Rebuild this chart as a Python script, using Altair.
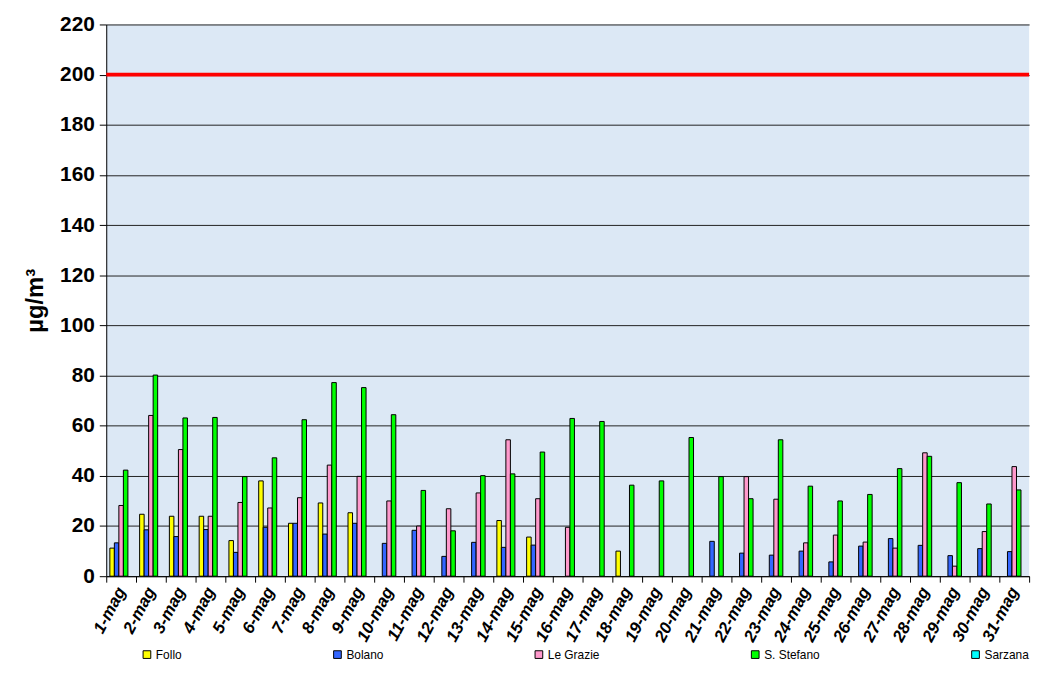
import altair as alt
import pandas as pd

days = ["1-mag", "2-mag", "3-mag", "4-mag", "5-mag", "6-mag", "7-mag", "8-mag",
        "9-mag", "10-mag", "11-mag", "12-mag", "13-mag", "14-mag", "15-mag",
        "16-mag", "17-mag", "18-mag", "19-mag", "20-mag", "21-mag", "22-mag",
        "23-mag", "24-mag", "25-mag", "26-mag", "27-mag", "28-mag", "29-mag",
        "30-mag", "31-mag"]

stations = ["Follo", "Bolano", "Le Grazie", "S. Stefano", "Sarzana"]
colors = ["#FFFF00", "#3366FF", "#FF99CC", "#00FF00", "#00FFFF"]

follo = [11.2, 24.7, 23.9, 23.9, 14.2, 38.0, 21.1, 29.2, 25.3, None, None, None,
         None, 22.2, 15.6, None, None, 10.0, None, None, None, None, None, None,
         None, None, None, None, None, None, None]
bolano = [13.3, 18.5, 15.8, 18.6, 9.5, 19.5, 21.1, 16.8, 21.1, 13.1, 18.3, 7.9,
          13.5, 11.5, 12.4, None, None, None, None, None, 13.9, 9.2, 8.4, 10.0,
          5.7, 12.0, 15.0, 12.3, 8.2, 11.0, 9.8]
le_grazie = [28.2, 64.1, 50.5, 23.9, 29.4, 27.2, 31.3, 44.3, 39.8, 30.0, 20.0,
             26.9, 33.2, 54.4, 30.9, 19.5, None, None, None, None, None, 39.7,
             30.7, 13.3, 16.4, 13.6, 11.2, 49.2, 4.0, 17.8, 43.7]
s_stefano = [42.3, 80.2, 63.1, 63.3, 39.7, 47.2, 62.4, 77.2, 75.2, 64.4, 34.2,
             18.1, 40.1, 40.8, 49.5, 62.9, 61.7, 36.3, 38.0, 55.3, 39.7, 30.9,
             54.4, 35.9, 30.0, 32.6, 42.9, 47.8, 37.3, 28.8, 34.4]
sarzana = [None] * 31

limit = [200]

series = [follo, bolano, le_grazie, s_stefano, sarzana]
rows = []
for name, vals in zip(stations, series):
    for d, v in zip(days, vals):
        rows.append({"day": d, "station": name, "value": v})
df = pd.DataFrame(rows)

FONT = "Liberation Sans"

bars = alt.Chart(df).mark_bar(stroke="black", strokeWidth=1).encode(
    x=alt.X("day:N", sort=days,
            scale=alt.Scale(paddingInner=0, paddingOuter=0),
            axis=alt.Axis(title=None, labelAngle=-62, labelAlign="right",
                          labelBaseline="middle", labelFont=FONT,
                          labelFontSize=17, labelFontWeight="bold",
                          labelFontStyle="italic", labelColor="black",
                          tickBand="extent", tickColor="black", tickSize=6,
                          domainColor="black", labelPadding=6)),
    xOffset=alt.XOffset("station:N",
                        scale=alt.Scale(domain=stations, paddingOuter=0.8,
                                        paddingInner=0)),
    y=alt.Y("value:Q",
            scale=alt.Scale(domain=[0, 220]),
            axis=alt.Axis(values=list(range(0, 221, 20)), title="µg/m³",
                          titleFont=FONT, titleFontSize=24, titleFontWeight="bold",
                          titleColor="black", titlePadding=12,
                          labelFont=FONT, labelFontSize=21, labelFontWeight="bold",
                          labelColor="black", labelPadding=5,
                          tickColor="black", tickSize=7, domainColor="black",
                          grid=True, gridColor="#222222", gridWidth=1)),
    color=alt.Color("station:N",
                    scale=alt.Scale(domain=stations, range=colors),
                    legend=alt.Legend(title=None, orient="none", direction="horizontal",
                                      legendX=35, legendY=629,
                                      symbolType="square", symbolSize=60,
                                      symbolStrokeColor="black", symbolStrokeWidth=1,
                                      symbolOpacity=1,
                                      labelFont=FONT, labelFontSize=12,
                                      labelColor="black", labelOffset=3,
                                      columnPadding=150)),
)

rule = alt.Chart(pd.DataFrame({"limit": limit})).mark_rule(
    color="#FF0000", strokeWidth=4).encode(y="limit:Q")

chart = alt.layer(bars, rule).properties(
    width=930, height=556,
    background="white",
    autosize=alt.AutoSizeParams(type="none"),
    padding={"left": 99, "top": 14, "right": 15, "bottom": 100},
).configure_view(fill="#dce8f5", strokeWidth=0)

chart.save("out.html", embed_options={"renderer": "svg", "actions": False})
